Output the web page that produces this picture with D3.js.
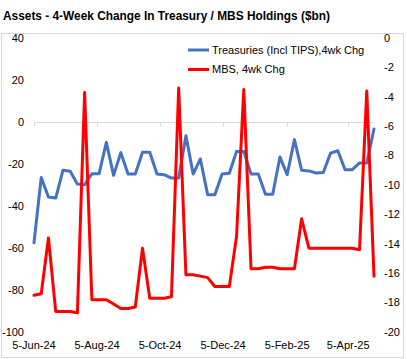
<!DOCTYPE html>
<html><head><meta charset="utf-8">
<script src="https://cdn.jsdelivr.net/npm/d3@7"></script>
<style>body{margin:0;background:#fff}svg{display:block}text{font-family:"Liberation Sans",Arial,sans-serif}</style>
</head><body>
<svg id="c" width="407" height="359"></svg>
<script>
const dates = ["2024-06-05","2024-06-12","2024-06-19","2024-06-26","2024-07-03","2024-07-10","2024-07-17","2024-07-24","2024-07-31","2024-08-07","2024-08-14","2024-08-21","2024-08-28","2024-09-04","2024-09-11","2024-09-18","2024-09-25","2024-10-02","2024-10-09","2024-10-16","2024-10-23","2024-10-30","2024-11-06","2024-11-13","2024-11-20","2024-11-27","2024-12-04","2024-12-11","2024-12-18","2024-12-25","2025-01-01","2025-01-08","2025-01-15","2025-01-22","2025-01-29","2025-02-05","2025-02-12","2025-02-19","2025-02-26","2025-03-05","2025-03-12","2025-03-19","2025-03-26","2025-04-02","2025-04-09","2025-04-16","2025-04-23","2025-04-30"];
const treasuries = [-57.5,-26.4,-35.7,-36.2,-23.0,-23.5,-29.5,-29.9,-24.6,-24.6,-9.7,-25.4,-14.6,-24.8,-24.8,-14.4,-14.4,-24.8,-25.1,-26.7,-26.7,-6.5,-24.8,-17.6,-34.6,-34.6,-24.8,-24.4,-14.0,-14.0,-24.8,-24.8,-34.4,-34.4,-16.7,-25.1,-8.4,-23.0,-23.3,-24.3,-24.0,-14.8,-13.7,-22.7,-22.7,-19.5,-19.5,-3.3];
const mbs = [-17.5,-17.4,-13.6,-18.6,-18.6,-18.6,-18.7,-3.7,-17.8,-17.8,-17.8,-18.1,-18.4,-18.4,-18.3,-14.3,-17.7,-17.7,-17.7,-17.6,-3.4,-16.1,-16.1,-16.2,-16.3,-16.9,-16.9,-16.9,-13.5,-3.5,-15.7,-15.7,-15.6,-15.6,-15.7,-15.7,-15.7,-12.3,-14.3,-14.3,-14.3,-14.3,-14.3,-14.3,-14.3,-14.4,-3.6,-16.2];
const leftTicks = [40,20,0,-20,-40,-60,-80,-100];
const rightTicks = [0,-2,-4,-6,-8,-10,-12,-14,-16,-18,-20];
const xTickDates = ["2024-06-05","2024-08-05","2024-10-05","2024-12-05","2025-02-05","2025-04-05"];
const xTickLabels = ["5-Jun-24","5-Aug-24","5-Oct-24","5-Dec-24","5-Feb-25","5-Apr-25"];
const seriesNames = ["Treasuries (Incl TIPS),4wk Chg","MBS, 4wk Chg"];

const parse = d3.timeParse("%Y-%m-%d");
const dd = dates.map(parse);
const svg = d3.select("#c");

const x = d3.scaleTime().domain([dd[0], dd[dd.length-1]]).range([34, 374]);
const yL = d3.scaleLinear().domain([-100, 40]).range([332, 38]);
const yR = d3.scaleLinear().domain([-20, 0]).range([332, 38]);

// title
svg.append("text").attr("x",3).attr("y",19.5).attr("font-size",13).attr("font-weight","bold")
  .attr("fill","#000").attr("textLength",327).attr("lengthAdjust","spacingAndGlyphs")
  .text("Assets - 4-Week Change In Treasury / MBS Holdings ($bn)");

// chart frame
svg.append("rect").attr("x",1.5).attr("y",33.5).attr("width",402).attr("height",324)
  .attr("fill","none").attr("stroke","#d9d9d9");

// zero line with ticks
svg.append("line").attr("x1",x(dd[0])).attr("x2",x(dd[dd.length-1])).attr("y1",Math.round(yL(0))+0.5).attr("y2",Math.round(yL(0))+0.5)
  .attr("stroke","#d9d9d9").attr("stroke-width",1);
svg.selectAll(".xt").data(xTickDates.map(parse)).enter().append("line")
  .attr("x1",d=>Math.round(x(d))+0.5).attr("x2",d=>Math.round(x(d))+0.5)
  .attr("y1",Math.round(yL(0))+0.5).attr("y2",Math.round(yL(0))+4.5)
  .attr("stroke","#d9d9d9");

// left axis labels
svg.selectAll(".yl").data(leftTicks).enter().append("text")
  .attr("x",24).attr("y",d=>yL(d)).attr("dy","0.35em").attr("text-anchor","end")
  .attr("font-size",11).attr("fill","#000").text(d=>d);
// right axis labels
svg.selectAll(".yr").data(rightTicks).enter().append("text")
  .attr("x",384).attr("y",d=>yR(d)).attr("dy","0.35em").attr("text-anchor","start")
  .attr("font-size",11).attr("fill","#000").text(d=>d);
// x labels
svg.selectAll(".xl").data(xTickDates).enter().append("text")
  .attr("x",d=>x(parse(d))).attr("y",345).attr("dy","0.35em").attr("text-anchor","middle")
  .attr("font-size",11).attr("fill","#000").text((d,i)=>xTickLabels[i]);

// lines
const lineT = d3.line().x((d,i)=>x(dd[i])).y(d=>yL(d));
const lineM = d3.line().x((d,i)=>x(dd[i])).y(d=>yR(d));
svg.append("path").attr("d",lineT(treasuries)).attr("fill","none").attr("stroke","#4472C4")
  .attr("stroke-width",3).attr("stroke-linejoin","round").attr("stroke-linecap","round");
svg.append("path").attr("d",lineM(mbs)).attr("fill","none").attr("stroke","#FF0000")
  .attr("stroke-width",3).attr("stroke-linejoin","round").attr("stroke-linecap","round");

// legend
const colors = ["#4472C4","#FF0000"];
const lg = svg.selectAll(".lg").data(seriesNames).enter().append("g")
  .attr("transform",(d,i)=>`translate(188,${50+i*19.5})`);
lg.append("line").attr("x1",0).attr("x2",21).attr("y1",0).attr("y2",0)
  .attr("stroke",(d,i)=>colors[i]).attr("stroke-width",3);
lg.append("text").attr("x",24).attr("y",0).attr("dy","0.35em").attr("font-size",11)
  .attr("fill","#000").text(d=>d);
</script>
</body></html>
